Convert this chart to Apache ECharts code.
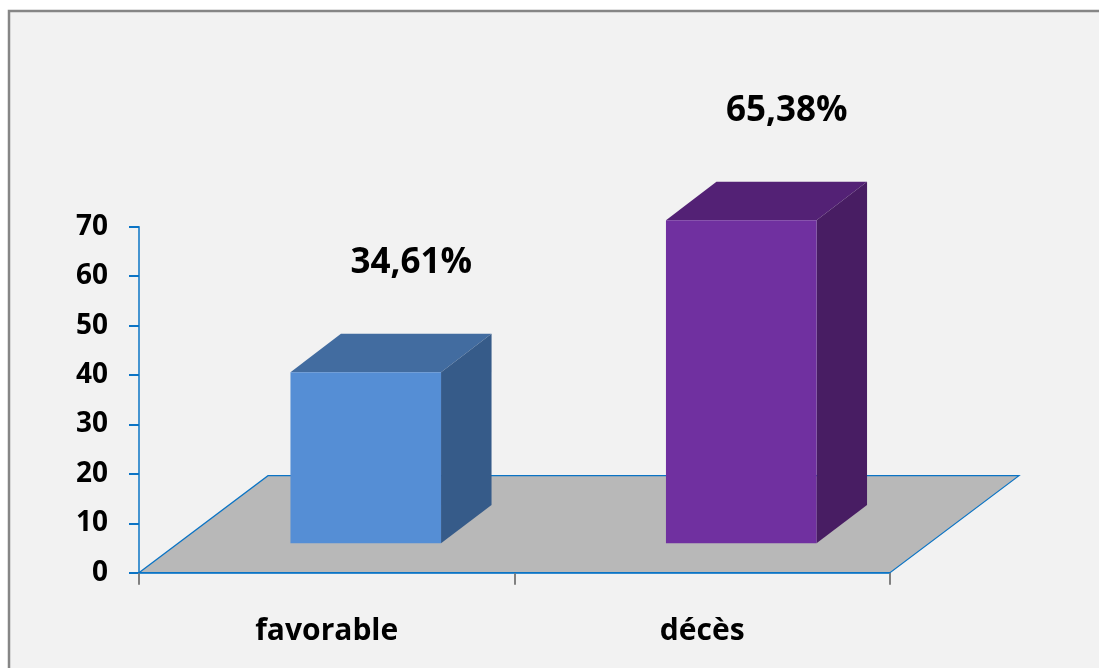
<!DOCTYPE html>
<html>
<head>
<meta charset="utf-8">
<script src="https://cdn.jsdelivr.net/npm/echarts@6/dist/echarts.min.js"></script>
<style>
html,body{margin:0;padding:0;background:#ffffff;}
#chart{width:1099px;height:668px;}
</style>
</head>
<body>
<div id="chart"></div>
<script>
// ---- data ----
const categories = ['favorable', 'décès'];
const values = [34.61, 65.38];
const valueLabels = ['34,61%', '65,38%'];
const yMin = 0, yMax = 70, yInterval = 10;

// ---- styles ----
const frontColors = ['#558ed5', '#7030a0'];
const topColors = ['#426ca0', '#532175'];
const sideColors = ['#365b89', '#481d63'];
const axisBlue = '#0b74c5';
const FONT = '"Open Sans", "Liberation Sans", sans-serif';

// 3D geometry (pixels)
const FLOOR_DX = 129, FLOOR_DY = 97;
const SHIFT_X = 39, SHIFT_Y = 29.4;
const DEPTH_X = 50.5, DEPTH_Y = 38.4;
const BAR_RATIO = 0.401;

const chart = echarts.init(document.getElementById('chart'));

function renderFloor(params, api) {
  const band = api.size([1, 0])[0];
  const p0 = api.coord([0, 0]);
  const p1 = api.coord([categories.length - 1, 0]);
  const left = p0[0] - band / 2;
  const right = p1[0] + band / 2;
  const y0 = p0[1];
  return {
    type: 'polygon',
    shape: { points: [[left, y0], [right, y0], [right + FLOOR_DX, y0 - FLOOR_DY], [left + FLOOR_DX, y0 - FLOOR_DY]] },
    style: { fill: '#b8b8b8', stroke: axisBlue, lineWidth: 1.2 }
  };
}

function renderBar(params, api) {
  const i = api.value(0);
  const v = api.value(1);
  const base = api.coord([i, 0]);
  const top = api.coord([i, v]);
  const band = api.size([1, 0])[0];
  const w = band * BAR_RATIO;
  const x0 = base[0] - w / 2 + SHIFT_X;
  const x1 = x0 + w;
  const yb = base[1] - SHIFT_Y;
  const yt = top[1] - SHIFT_Y;
  const idx = params.dataIndex;
  return {
    type: 'group',
    children: [
      { type: 'polygon', shape: { points: [[x0, yt], [x1, yt], [x1 + DEPTH_X, yt - DEPTH_Y], [x0 + DEPTH_X, yt - DEPTH_Y]] },
        style: { fill: topColors[idx] } },
      { type: 'polygon', shape: { points: [[x1, yt], [x1 + DEPTH_X, yt - DEPTH_Y], [x1 + DEPTH_X, yb - DEPTH_Y], [x1, yb]] },
        style: { fill: sideColors[idx] } },
      { type: 'rect', shape: { x: x0, y: yt, width: w, height: yb - yt },
        style: { fill: frontColors[idx] } },
      { type: 'text', x: x0 + DEPTH_X + w / 2 - 5, y: yt - DEPTH_Y - 71,
        style: { text: valueLabels[idx], fill: '#000', font: 'bold 35px ' + FONT, align: 'center', verticalAlign: 'middle' } }
    ]
  };
}

chart.setOption({
  animation: false,
  backgroundColor: '#ffffff',
  graphic: [{
    type: 'rect', z: -100,
    shape: { x: 9, y: 11, width: 1200, height: 800 },
    style: { fill: '#f2f2f2', stroke: '#868686', lineWidth: 2.5 }
  }],
  grid: { left: 139, right: 209, top: 226.7, bottom: 95.3, containLabel: false },
  xAxis: {
    type: 'category',
    data: categories,
    boundaryGap: true,
    axisLine: { lineStyle: { color: axisBlue, width: 1.5 } },
    axisTick: { show: true, length: 12, lineStyle: { color: '#808080', width: 2 } },
    axisLabel: { color: '#000', fontFamily: FONT, fontWeight: 'bold', fontSize: 30, margin: 44 },
    splitLine: { show: false }
  },
  yAxis: {
    type: 'value',
    min: yMin, max: yMax, interval: yInterval,
    axisLine: { show: true, lineStyle: { color: axisBlue, width: 1.5 } },
    axisTick: { show: true, length: 10, lineStyle: { color: axisBlue, width: 2 } },
    axisLabel: { color: '#000', fontFamily: FONT, fontWeight: 'bold', fontSize: 28, margin: 31 },
    splitLine: { show: false }
  },
  series: [
    { type: 'custom', z: 1, renderItem: renderFloor, data: [[0, 0]], encode: { x: 0, y: 1 }, silent: true },
    { type: 'custom', z: 2, renderItem: renderBar, data: values.map((v, i) => [i, v]), encode: { x: 0, y: 1 } }
  ]
});
</script>
</body>
</html>
